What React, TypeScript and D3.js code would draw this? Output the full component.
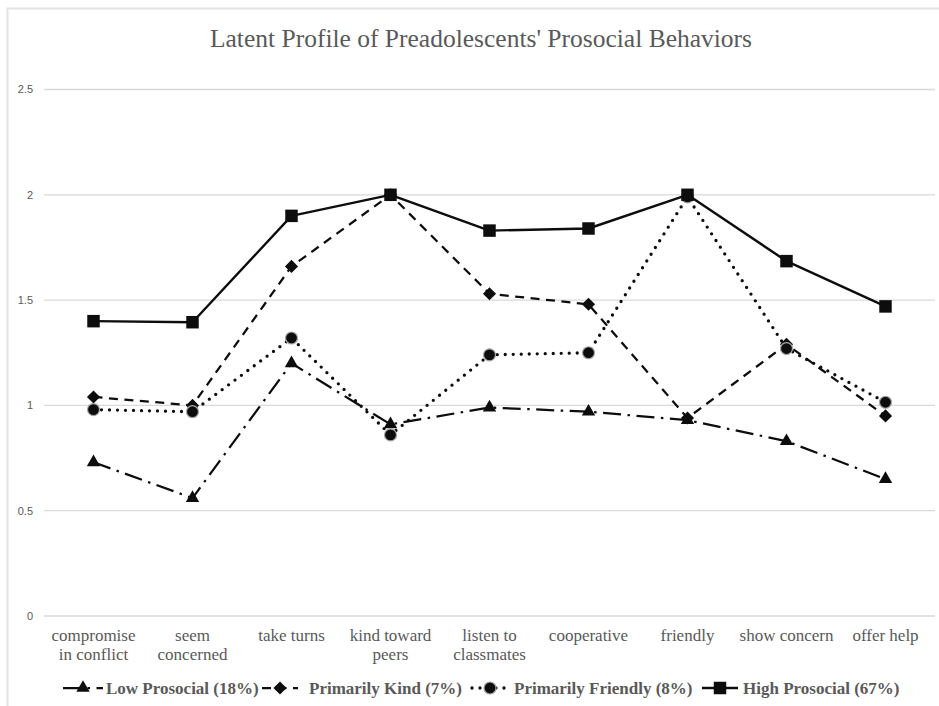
import React from "react";
import * as d3 from "d3";

const categories = [
  ["compromise", "in conflict"],
  ["seem", "concerned"],
  ["take turns"],
  ["kind toward", "peers"],
  ["listen to", "classmates"],
  ["cooperative"],
  ["friendly"],
  ["show concern"],
  ["offer help"],
];
const catKeys = categories.map((c) => c.join(" "));

const lowProsocial = [0.73, 0.56, 1.2, 0.91, 0.99, 0.97, 0.93, 0.83, 0.65];
const primarilyKind = [1.04, 1.0, 1.66, 2.0, 1.53, 1.48, 0.94, 1.29, 0.95];
const primarilyFriendly = [0.98, 0.97, 1.32, 0.86, 1.24, 1.25, 1.99, 1.27, 1.015];
const highProsocial = [1.4, 1.395, 1.9, 2.0, 1.83, 1.84, 2.0, 1.685, 1.47];

const yTicks = [0, 0.5, 1, 1.5, 2, 2.5];
const yTickLabels = ["0", "0.5", "1", "1.5", "2", "2.5"];

const seriesNames = [
  "Low Prosocial (18%)",
  "Primarily Kind (7%)",
  "Primarily Friendly (8%)",
  "High Prosocial (67%)",
];

const W = 939;
const H = 706;
const GRAY = "#595959";
const INK = "#0d0d0d";
const SERIF = "'Liberation Serif', 'Times New Roman', serif";

type Style = {
  dash: string;
  width: number;
  cap: "butt" | "round";
  marker: "triangle" | "diamond" | "circle" | "square";
};

const styles: Style[] = [
  { dash: "18 6.5 2.5 6.5", width: 2.25, cap: "butt", marker: "triangle" },
  { dash: "9 6.5", width: 2.25, cap: "butt", marker: "diamond" },
  { dash: "0 8", width: 3.3, cap: "round", marker: "circle" },
  { dash: "", width: 2.4, cap: "butt", marker: "square" },
];

const seriesValues = [lowProsocial, primarilyKind, primarilyFriendly, highProsocial];

function Marker({ type, x, y }: { type: Style["marker"]; x: number; y: number }) {
  if (type === "circle") {
    return <circle cx={x} cy={y} r={6} fill={INK} stroke="#a6a6a6" strokeWidth={1.2} />;
  }
  if (type === "triangle") {
    const p = d3.symbol().type(d3.symbolTriangle).size(78)();
    return <path d={p || ""} transform={`translate(${x},${y})`} fill={INK} />;
  }
  if (type === "diamond") {
    const p = d3.symbol().type(d3.symbolSquare).size(86)();
    return <path d={p || ""} transform={`translate(${x},${y}) rotate(45)`} fill={INK} />;
  }
  const p = d3.symbol().type(d3.symbolSquare).size(156)();
  return <path d={p || ""} transform={`translate(${x},${y})`} fill={INK} />;
}

export default function App() {
  const x = d3.scaleBand<string>().domain(catKeys).range([44, 935]);
  const cx = (k: string) => (x(k) as number) + x.bandwidth() / 2;
  const y = d3.scaleLinear().domain([0, 2.5]).range([616, 89.5]);
  const line = d3
    .line<number>()
    .x((_, i) => cx(catKeys[i]))
    .y((d) => y(d));

  const legendLineStart = [63, 262, 472, 702];
  const legendTextStart = [106, 309, 514, 743];
  const legendY = 688;

  return (
    <svg
      width={W}
      height={H}
      style={{ position: "absolute", left: 0, top: 0, background: "#fff" }}
    >
      <rect x={0} y={0} width={W} height={H} fill="#fff" />
      <path d={`M7.5,${H + 2} V8.5 H${W + 2}`} fill="none" stroke="#e3e3e3" strokeWidth={2} />
      <text
        x={481}
        y={47}
        textAnchor="middle"
        fontFamily={SERIF}
        fontSize={25.5}
        fill={GRAY}
      >
        Latent Profile of Preadolescents' Prosocial Behaviors
      </text>

      {yTicks.map((t, i) => (
        <g key={t}>
          <line x1={44} x2={935} y1={y(t)} y2={y(t)} stroke="#d9d9d9" strokeWidth={1.3} />
          <text
            x={33}
            y={y(t)}
            dy="0.35em"
            textAnchor="end"
            fontFamily="'Liberation Sans', Arial, sans-serif"
            fontSize={11}
            fill={GRAY}
          >
            {yTickLabels[i]}
          </text>
        </g>
      ))}

      {categories.map((c, i) => (
        <text
          key={catKeys[i]}
          x={cx(catKeys[i])}
          y={641}
          textAnchor="middle"
          fontFamily={SERIF}
          fontSize={17}
          fill={GRAY}
        >
          {c.map((l, j) => (
            <tspan key={j} x={cx(catKeys[i])} dy={j === 0 ? 0 : 19}>
              {l}
            </tspan>
          ))}
        </text>
      ))}

      {seriesValues.map((vals, si) => (
        <g key={seriesNames[si]}>
          <path
            d={line(vals) || ""}
            fill="none"
            stroke={INK}
            strokeWidth={styles[si].width}
            strokeDasharray={styles[si].dash || undefined}
            strokeLinecap={styles[si].cap}
            strokeLinejoin="round"
          />
          {vals.map((v, i) => (
            <Marker key={i} type={styles[si].marker} x={cx(catKeys[i])} y={y(v)} />
          ))}
        </g>
      ))}

      {seriesNames.map((name, si) => {
        const x0 = legendLineStart[si];
        const len = si === 0 ? 40 : 36;
        return (
          <g key={name}>
            <line
              x1={x0}
              x2={x0 + len}
              y1={legendY}
              y2={legendY}
              stroke={INK}
              strokeWidth={styles[si].width}
              strokeDasharray={styles[si].dash || undefined}
              strokeLinecap={styles[si].cap}
            />
            <Marker type={styles[si].marker} x={x0 + (si === 0 ? 20 : len / 2)} y={legendY} />
            <text
              x={legendTextStart[si]}
              y={legendY}
              dy="0.33em"
              fontFamily={SERIF}
              fontWeight="bold"
              fontSize={17}
              fill={GRAY}
            >
              {name}
            </text>
          </g>
        );
      })}
    </svg>
  );
}
